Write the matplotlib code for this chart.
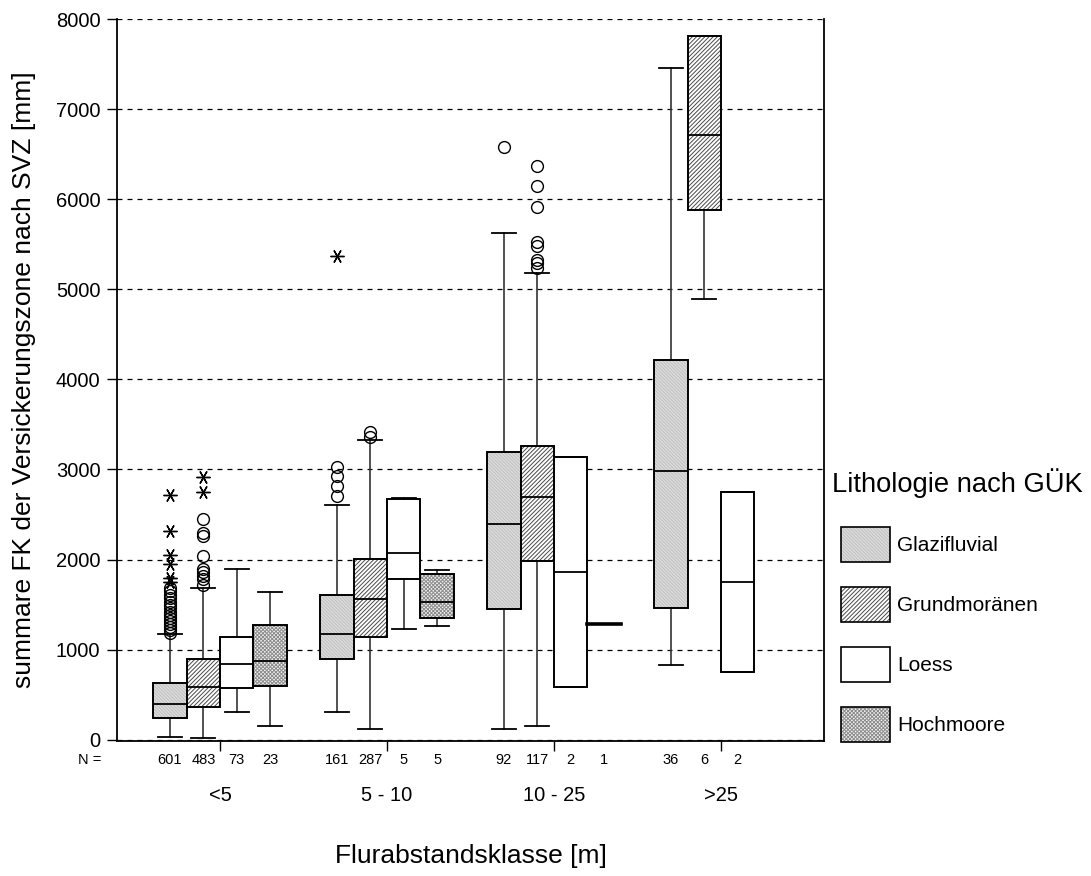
import matplotlib
matplotlib.use("Agg")
import matplotlib.pyplot as plt
from matplotlib.patches import Patch, PathPatch
from matplotlib.legend_handler import HandlerTuple

plt.rcParams['font.family'] = ['Liberation Sans', 'DejaVu Sans']
plt.rcParams['hatch.linewidth'] = 0.7

# ---------------- data ----------------
groups = ['<5', '5 - 10', '10 - 25', '>25']
lithologies = ['Glazifluvial', 'Grundmoränen', 'Loess', 'Hochmoore']

# Glazifluvial
gl_med = [395, 1170, 2400, 2980]
gl_q1 = [240, 893, 1450, 1460]
gl_q3 = [627, 1610, 3190, 4210]
gl_lo = [29, 305, 115, 827]
gl_hi = [1170, 2610, 5620, 7455]
gl_n = [601, 161, 92, 36]
gl_out = [[1190, 1220, 1250, 1290, 1320, 1350, 1390, 1420, 1460, 1500,
           1530, 1570, 1610, 1650, 1690],
          [2710, 2820, 2930, 3030],
          [6580],
          []]
gl_ext = [[1750, 1800, 1950, 2050, 2320, 2720], [5370], [], []]

# Grundmoränen
gm_med = [583, 1560, 2700, 6713]
gm_q1 = [362, 1137, 1980, 5880]
gm_q3 = [893, 2010, 3260, 7810]
gm_lo = [15, 125, 150, 4890]
gm_hi = [1680, 3330, 5180, 7810]
gm_n = [483, 287, 117, 6]
gm_out = [[1720, 1780, 1820, 1860, 1900, 2040, 2260, 2300, 2450],
          [3360, 3420],
          [5240, 5290, 5320, 5480, 5530, 5910, 6150, 6370],
          []]
gm_ext = [[2745, 2920], [], [], []]

# Loess
lo_med = [838, 2070, 1860, 1750]
lo_q1 = [572, 1790, 585, 750]
lo_q3 = [1137, 2670, 3135, 2745]
lo_lo = [305, 1225, 585, 750]
lo_hi = [1900, 2680, 3135, 2745]
lo_n = [73, 5, 2, 2]
lo_out = [[], [], [], []]
lo_ext = [[], [], [], []]

# Hochmoore (no data for >25)
hm_med = [870, 1525, 1280]
hm_q1 = [594, 1350, 1280]
hm_q3 = [1270, 1835, 1280]
hm_lo = [150, 1260, 1280]
hm_hi = [1635, 1880, 1280]
hm_n = [23, 5, 1]
hm_out = [[], [], []]
hm_ext = [[], [], []]

yticks = [0, 1000, 2000, 3000, 4000, 5000, 6000, 7000, 8000]

# ---------------- styles ----------------
series = [
    (gl_med, gl_q1, gl_q3, gl_lo, gl_hi, gl_n, gl_out, gl_ext),
    (gm_med, gm_q1, gm_q3, gm_lo, gm_hi, gm_n, gm_out, gm_ext),
    (lo_med, lo_q1, lo_q3, lo_lo, lo_hi, lo_n, lo_out, lo_ext),
    (hm_med, hm_q1, hm_q3, hm_lo, hm_hi, hm_n, hm_out, hm_ext),
]
styles = [
    dict(face='#c4c4c4', hatch='\\' * 10, hcol='#e2e2e2'),
    dict(face='white', hatch='/' * 8, hcol='#4a4a4a'),
    dict(face='white', hatch=None, hcol='black'),
    dict(face='#f2f2f2', hatch='x' * 9, hcol='#8c8c8c'),
]
offsets = [-0.3, -0.1, 0.1, 0.3]
width = 0.2

fig = plt.figure(figsize=(10.91, 8.76), dpi=100)
ax = fig.add_axes([0.10724, 0.15468, 0.64803, 0.82363])
ax.set_xlim(-0.617, 3.617)
ax.set_ylim(-8, 8000)

star = (6, 2, 90)
legend_handles = []
for k, (data, st) in enumerate(zip(series, styles)):
    med, q1, q3, lo, hi, n, out, ext = data
    stats = []
    pos = []
    for g in range(len(med)):
        stats.append(dict(med=med[g], q1=q1[g], q3=q3[g], whislo=lo[g],
                          whishi=hi[g], fliers=out[g]))
        pos.append(g + offsets[k])
    boxkw = dict(facecolor=st['face'], edgecolor=st['hcol'], linewidth=0)
    if st['hatch']:
        boxkw['hatch'] = st['hatch']
    res = ax.bxp(stats, positions=pos, widths=width, patch_artist=True,
                 capwidths=0.145, manage_ticks=False,
                 boxprops=boxkw,
                 medianprops=dict(color='black', linewidth=1.3),
                 whiskerprops=dict(color='#333333', linewidth=1.2),
                 capprops=dict(color='black', linewidth=1.3),
                 flierprops=dict(marker='o', markerfacecolor='none',
                                 markeredgecolor='black', markersize=8.5,
                                 markeredgewidth=1.0))
    for b in res['boxes']:
        b.set_zorder(2)
        outline = PathPatch(b.get_path(), facecolor='none', edgecolor='black',
                            linewidth=1.4, zorder=2.5)
        ax.add_patch(outline)
    for m in res['medians']:
        m.set_zorder(3)
    for g in range(len(med)):
        if ext[g]:
            ax.plot([g + offsets[k]] * len(ext[g]), ext[g], linestyle='none',
                    marker=star, markersize=10, markeredgecolor='black',
                    markeredgewidth=1.0, zorder=4)
        if n[g] == 1:
            ax.plot([g + offsets[k] - width / 2, g + offsets[k] + width / 2],
                    [med[g], med[g]], color='black', linewidth=2.6, zorder=4)
        ax.text(g + offsets[k], -0.0265, str(n[g]), transform=ax.get_xaxis_transform(),
                ha='center', va='center', fontsize=10.5)
    fill = Patch(facecolor=st['face'], edgecolor=st['hcol'], linewidth=0,
                 hatch=st['hatch'])
    edge = Patch(facecolor='none', edgecolor='black', linewidth=1.2)
    legend_handles.append((fill, edge))

ax.text(-0.038, -0.0265, 'N =', transform=ax.transAxes, ha='center', va='center',
        fontsize=10.5)

# axes styling
ax.set_xticks(range(len(groups)))
ax.set_xticklabels(groups, fontsize=14.5)
ax.tick_params(axis='x', direction='out', length=7, width=1, pad=26)
ax.set_yticks(yticks)
ax.set_yticklabels([str(v) for v in yticks], fontsize=14.5)
ax.tick_params(axis='y', direction='out', length=7, width=1, pad=5)
ax.grid(axis='y', linestyle=(0, (4, 4)), color='black', linewidth=0.9)
ax.set_axisbelow(True)
ax.spines['top'].set_visible(False)
for s in ['left', 'right', 'bottom']:
    ax.spines[s].set_linewidth(1.3)

ax.set_ylabel('summare FK der Versickerungszone nach SVZ [mm]', fontsize=19,
              labelpad=14)
ax.set_xlabel('Flurabstandsklasse [m]', fontsize=19, labelpad=28)

fig.text(832 / 1091, 1 - 492 / 876, 'Lithologie nach GÜK', fontsize=19.7,
         ha='left', va='baseline')
leg = fig.legend(legend_handles, lithologies, loc='upper left',
                 bbox_to_anchor=(841 / 1091, 1 - 527 / 876),
                 bbox_transform=fig.transFigure, frameon=False, fontsize=15,
                 handlelength=2.35, handleheight=2.21, labelspacing=1.2,
                 handletextpad=0.35, borderpad=0, borderaxespad=0,
                 handler_map={tuple: HandlerTuple(ndivide=1, pad=0)})

fig.savefig('out.png', dpi=100)
